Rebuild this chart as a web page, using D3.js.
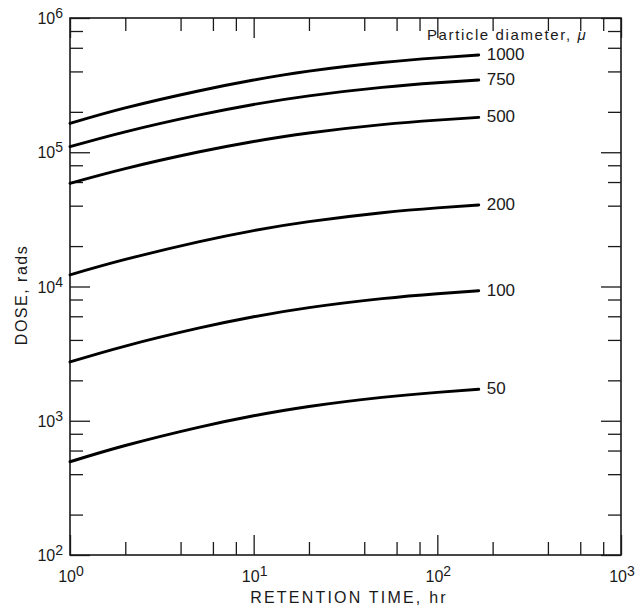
<!DOCTYPE html>
<html>
<head>
<meta charset="utf-8">
<script src="https://cdn.jsdelivr.net/npm/d3@7"></script>
<style>
  html, body { margin: 0; padding: 0; background: #ffffff; }
  svg { display: block; font-family: "Liberation Sans", Arial, Helvetica, sans-serif; }
</style>
</head>
<body>
<svg id="chart" width="636" height="609"></svg>
<script>
// Retention time (hr) at which each dose curve is sampled
const retentionHours = [1, 2, 5, 10, 20, 50, 100, 168];

// Particle diameters (microns), one curve each
const diameters = ["1000", "750", "500", "200", "100", "50"];

// Dose (rads) for each particle diameter
const dose1000 = [164000, 214000, 286000, 345000, 402000, 466000, 505000, 530000];
const dose750  = [110000, 142000, 189000, 227000, 263000, 304000, 329000, 345000];
const dose500  = [58700, 75600, 100400, 120300, 139200, 160600, 173600, 182000];
const dose200  = [12200, 15900, 21500, 26100, 30400, 35400, 38500, 40500];
const dose100  = [2740, 3600, 4890, 5950, 6960, 8120, 8840, 9300];
const dose50   = [495, 654, 893, 1089, 1278, 1494, 1628, 1715];

// Axis decades (powers of ten) and the minor-tick multipliers between them
const xTickExponents = [0, 1, 2, 3];
const yTickExponents = [2, 3, 4, 5, 6];
const minorMultipliers = [2, 4, 6, 8];

const xTitle = "RETENTION TIME, hr";
const yTitle = "DOSE, rads";
const legendTitle = "Particle diameter, ";

const doseSeries = [dose1000, dose750, dose500, dose200, dose100, dose50];

const svg = d3.select("#chart");
const ink = "#1a1a1a";

const plotLeft = 70, plotRight = 621, plotTop = 18, plotBottom = 555;

const x = d3.scaleLog().domain([1, 1000]).range([plotLeft, plotRight]);
const y = d3.scaleLog().domain([100, 1e6]).range([plotBottom, plotTop]);

const xMajor = xTickExponents.map(e => Math.pow(10, e));
const yMajor = yTickExponents.map(e => Math.pow(10, e));
const minorsFor = (majors) => {
  const out = [];
  majors.slice(0, -1).forEach(m => minorMultipliers.forEach(k => out.push(m * k)));
  return out;
};
const xMinor = minorsFor(xMajor);
const yMinor = minorsFor(yMajor);

// Inward-pointing ticks on all four sides of the frame
function tickGroup(axis, tx, ty) {
  const g = svg.append("g").attr("transform", `translate(${tx},${ty})`).call(axis);
  g.select(".domain").remove();
  g.selectAll("line").attr("stroke", ink).attr("stroke-width", 1.3);
  g.selectAll("text").remove();
  return g;
}
const noLabel = () => "";
tickGroup(d3.axisRight(y).tickValues(yMajor).tickSize(20).tickFormat(noLabel), plotLeft, 0);
tickGroup(d3.axisRight(y).tickValues(yMinor).tickSize(13).tickFormat(noLabel), plotLeft, 0);
tickGroup(d3.axisLeft(y).tickValues(yMajor).tickSize(20).tickFormat(noLabel), plotRight, 0);
tickGroup(d3.axisLeft(y).tickValues(yMinor).tickSize(13).tickFormat(noLabel), plotRight, 0);
tickGroup(d3.axisTop(x).tickValues(xMajor).tickSize(20).tickFormat(noLabel), 0, plotBottom);
tickGroup(d3.axisTop(x).tickValues(xMinor).tickSize(13).tickFormat(noLabel), 0, plotBottom);
tickGroup(d3.axisBottom(x).tickValues(xMajor).tickSize(20).tickFormat(noLabel), 0, plotTop);
tickGroup(d3.axisBottom(x).tickValues(xMinor).tickSize(13).tickFormat(noLabel), 0, plotTop);

// Plot frame
svg.append("rect")
  .attr("x", plotLeft).attr("y", plotTop)
  .attr("width", plotRight - plotLeft).attr("height", plotBottom - plotTop)
  .attr("fill", "none").attr("stroke", ink).attr("stroke-width", 1.6);

// Power-of-ten tick labels
function powerLabel(sel, exp) {
  sel.append("tspan").text("10");
  sel.append("tspan").attr("dy", -6).attr("font-size", 14).text(String(exp));
}
yTickExponents.forEach(e => {
  const t = svg.append("text")
    .attr("x", 63).attr("y", y(Math.pow(10, e)) + 6)
    .attr("text-anchor", "end").attr("font-size", 16).attr("fill", ink);
  powerLabel(t, e);
});
xTickExponents.forEach(e => {
  const t = svg.append("text")
    .attr("x", x(Math.pow(10, e)) + 1).attr("y", 582)
    .attr("text-anchor", "middle").attr("font-size", 16).attr("fill", ink);
  powerLabel(t, e);
});

// Axis titles
svg.append("text")
  .attr("x", 349).attr("y", 603)
  .attr("text-anchor", "middle").attr("font-size", 16)
  .attr("letter-spacing", 2.2).attr("fill", ink)
  .text(xTitle);
svg.append("text")
  .attr("transform", "translate(27,295) rotate(-90)")
  .attr("text-anchor", "middle").attr("font-size", 16)
  .attr("letter-spacing", 1.5).attr("fill", ink)
  .text(yTitle);

// Dose curves
const line = d3.line()
  .x(d => x(d[0]))
  .y(d => y(d[1]))
  .curve(d3.curveNatural);

doseSeries.forEach((vals, i) => {
  const pts = retentionHours.map((h, j) => [h, vals[j]]);
  svg.append("path")
    .attr("d", line(pts))
    .attr("fill", "none").attr("stroke", "#000")
    .attr("stroke-width", 2.9).attr("stroke-linecap", "round");
  const last = pts[pts.length - 1];
  svg.append("text")
    .attr("x", x(last[0]) + 8).attr("y", y(last[1]) + 5)
    .attr("font-size", 17).attr("fill", ink)
    .text(diameters[i]);
});

// Curve-label heading
const lt = svg.append("text")
  .attr("x", 427).attr("y", 40)
  .attr("font-size", 15).attr("letter-spacing", 1.6).attr("fill", ink);
lt.append("tspan").text(legendTitle);
lt.append("tspan").attr("font-style", "italic").text("μ");
</script>
</body>
</html>
